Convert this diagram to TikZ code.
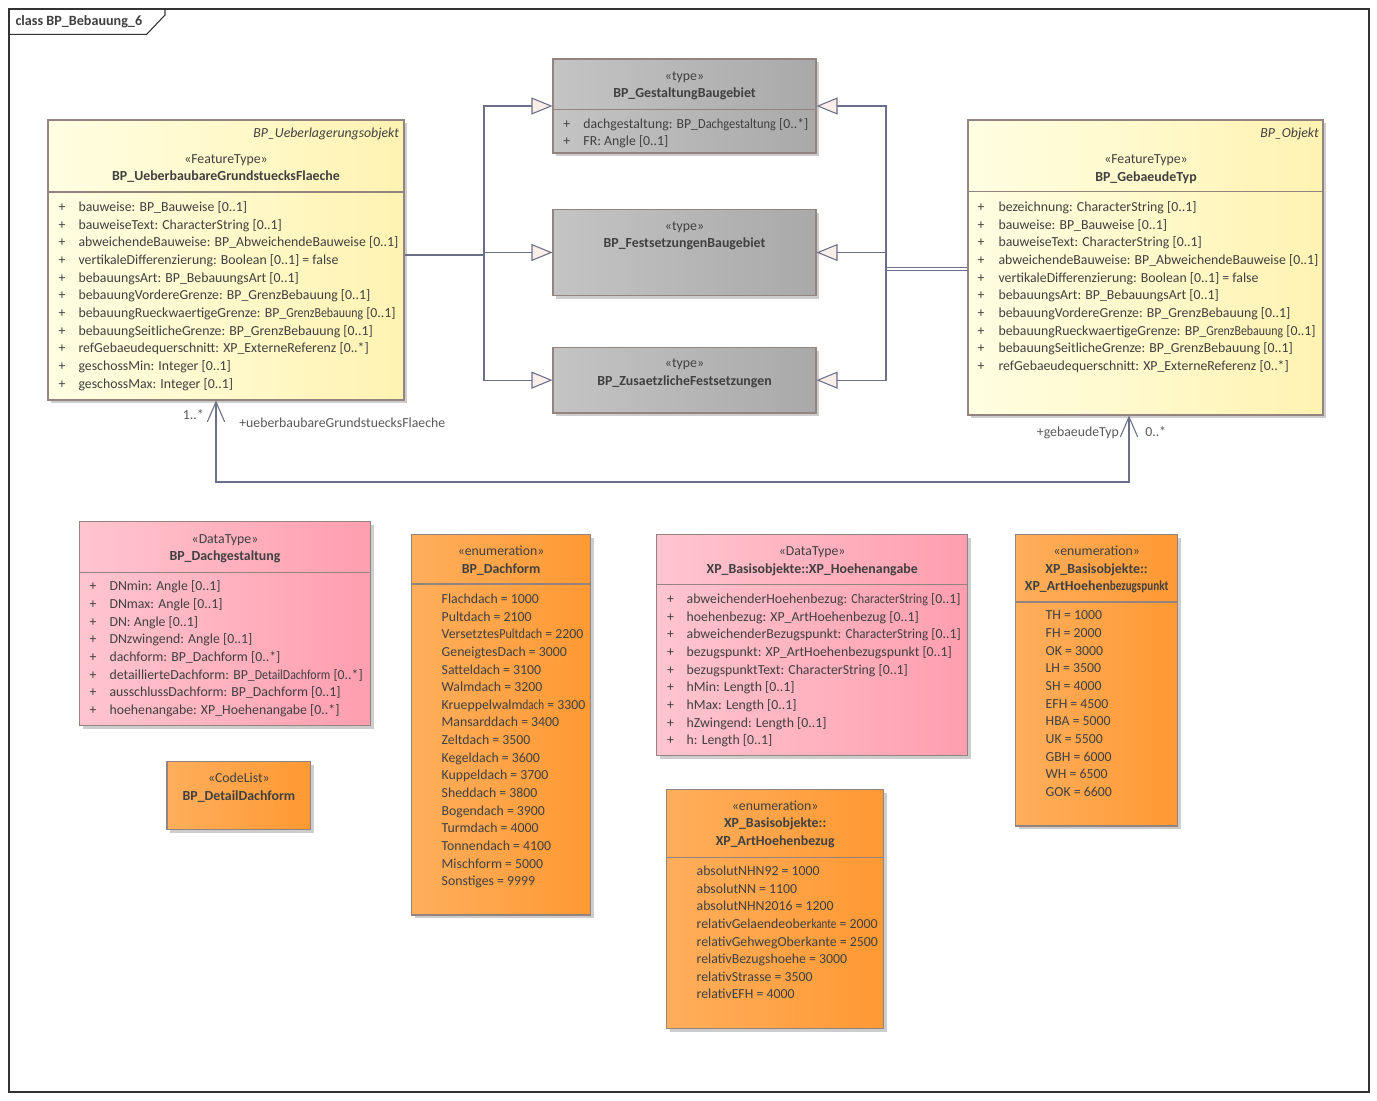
\documentclass[tikz,border=0pt]{standalone}
\usepackage{graphicx}
\usepackage{fontspec}
\setmainfont{Carlito}
\usetikzlibrary{arrows.meta,fit,shadows}
\definecolor{bd}{HTML}{94847F}
\definecolor{shd}{HTML}{CDCDCD}
\definecolor{txt}{HTML}{404040}
\definecolor{lc}{HTML}{6A7088}
\definecolor{af}{HTML}{FBEEE9}
\definecolor{yA}{HTML}{FFFEE2}
\definecolor{yB}{HTML}{FFF3B2}
\definecolor{gA}{HTML}{C4C4C4}
\definecolor{gB}{HTML}{A9A9A9}
\definecolor{pA}{HTML}{FFC5CF}
\definecolor{pB}{HTML}{FF9EAF}
\definecolor{oA}{HTML}{FFAE5C}
\definecolor{oB}{HTML}{FF9933}
\newcommand\sqz[2]{\scalebox{#1}[1]{#2}}
\newcommand\umlattrs[5]{%
  \foreach \itm [count=\i from 0] in {#5} {
    \node[t, anchor=mid west] (#1p\i) at (#2, #4+\i*17.7) {+};
    \node[t, anchor=mid west] (#1a\i) at (#3, #4+\i*17.7) {\itm};
  }}
\newcommand\umlvals[4]{%
  \foreach \itm [count=\i from 0] in {#4} {
    \node[t, anchor=mid west] (#1v\i) at (#2, #3+\i*17.66) {\itm};
  }}
\begin{document}
\begin{tikzpicture}[x=0.75pt,y=-0.75pt,
  box/.style={draw=bd, line width=0.8pt, inner sep=0pt,
    drop shadow={shadow xshift=2.6pt, shadow yshift=-2.6pt, fill=shd, opacity=1}},
  yel/.style={box, left color=yA, right color=yB},
  gry/.style={box, left color=gA, right color=gB},
  pnk/.style={box, left color=pA, right color=pB},
  org/.style={box, left color=oA, right color=oB},
  t/.style={inner sep=0pt, yshift=-1.1pt, font=\fontsize{10.35}{12}\selectfont, text=txt},
  tb/.style={inner sep=0pt, yshift=-1.1pt, font=\fontsize{10.4}{12}\selectfont\bfseries, text=txt},
  ti/.style={inner sep=0pt, yshift=-1.1pt, font=\fontsize{10.35}{12}\selectfont\itshape, text=txt},
  tl/.style={inner sep=0pt, yshift=-1.1pt, font=\fontsize{10.35}{12}\selectfont, text=black!65},
  dv/.style={draw=bd, line width=0.8pt},
  ln/.style={draw=lc, line width=0.8pt},
  gen/.style={ln, -{Triangle[open, fill=af, length=15.75pt, width=12.75pt]}},
  assoc/.style={ln, {Straight Barb[length=15pt, width=13pt]}-{Straight Barb[length=15pt, width=13pt]}},
  fr/.style={draw=black!80, line width=0.8pt}
]
\useasboundingbox (0,0) rectangle (1377,1100);
\fill[white] (0,0) rectangle (1377,1100);

% frame
\draw[fr] (9,9) rectangle (1369,1092);
\draw[fr] (9,34.3) -- (146.7,34.3) -- (165,15) -- (165,9);
\node[tb, anchor=mid west, font=\fontsize{10.6}{12}\selectfont\bfseries] (ttl) at (15.3,20.7) {class BP\_Bebauung\_6};

% left feature type
\node[yel, fit={(48,120)(404,400)}] (L) {};
\draw[dv] (48,192) -- (404,192);
\node[ti, anchor=mid east] (Lpar) at (399.3,132.7) {BP\_Ueberlagerungsobjekt};
\node[t, anchor=mid] (Lst) at (226,158.7) {«FeatureType»};
\node[tb, anchor=mid] (Lnm) at (226,176) {BP\_UeberbaubareGrundstuecksFlaeche};
\umlattrs{L}{58.3}{78.3}{206.7}{{bauweise: BP\_Bauweise [0..1]},{bauweiseText: CharacterString [0..1]},{abweichendeBauweise: BP\_AbweichendeBauweise [0..1]},{vertikaleDifferenzierung: Boolean [0..1] = false},{bebauungsArt: BP\_BebauungsArt [0..1]},{bebauungVordereGrenze: BP\_GrenzBebauung [0..1]},{bebauungRueckwaertigeGrenze: BP\_\sqz{0.86}{GrenzBebauung} [0..1]},{bebauungSeitlicheGrenze: BP\_GrenzBebauung [0..1]},{refGebaeudequerschnitt: XP\_ExterneReferenz [0..*]},{geschossMin: Integer [0..1]},{geschossMax: Integer [0..1]}}

% right feature type
\node[yel, fit={(968,120)(1323,415)}] (R) {};
\draw[dv] (968,191.7) -- (1323,191.7);
\node[ti, anchor=mid east] (Rpar) at (1319,132.7) {BP\_Objekt};
\node[t, anchor=mid] (Rst) at (1146,159.3) {«FeatureType»};
\node[tb, anchor=mid] (Rnm) at (1146,176.7) {BP\_GebaeudeTyp};
\umlattrs{R}{977.3}{998.3}{206.7}{{bezeichnung: CharacterString [0..1]},{bauweise: BP\_Bauweise [0..1]},{bauweiseText: CharacterString [0..1]},{abweichendeBauweise: BP\_AbweichendeBauweise [0..1]},{vertikaleDifferenzierung: Boolean [0..1] = false},{bebauungsArt: BP\_BebauungsArt [0..1]},{bebauungVordereGrenze: BP\_GrenzBebauung [0..1]},{bebauungRueckwaertigeGrenze: BP\_\sqz{0.86}{GrenzBebauung} [0..1]},{bebauungSeitlicheGrenze: BP\_GrenzBebauung [0..1]},{refGebaeudequerschnitt: XP\_ExterneReferenz [0..*]}}

% type boxes
\node[gry, fit={(553,59)(816,153)}] (G1) {};
\draw[dv] (553,109.3) -- (816,109.3);
\node[t, anchor=mid] (G1st) at (684.5,75.5) {«type»};
\node[tb, anchor=mid] (G1nm) at (684.5,93.3) {BP\_GestaltungBaugebiet};
\umlattrs{G}{563.2}{583.2}{123.5}{{dachgestaltung: BP\_\sqz{0.9}{Dachgestaltung} [0..*]},{FR: Angle [0..1]}}

\node[gry, fit={(553,209.3)(816,295.7)}] (G2) {};
\node[t, anchor=mid] (G2st) at (684.5,225.7) {«type»};
\node[tb, anchor=mid] (G2nm) at (684.5,243.3) {BP\_FestsetzungenBaugebiet};

\node[gry, fit={(553,347.3)(816,413)}] (G3) {};
\node[t, anchor=mid] (G3st) at (684.5,363.3) {«type»};
\node[tb, anchor=mid] (G3nm) at (684.5,381.2) {BP\_ZusaetzlicheFestsetzungen};

% generalizations left
\coordinate (lj) at (484,255);
\draw[ln] (lj -| L.east) -- (lj);
\draw[gen] (lj) |- (G1.west);
\draw[gen] (lj) |- (G2.west);
\draw[gen] (lj) |- (G3.west);

% generalizations right
\coordinate (rj) at (886,267.5);
\coordinate (rw2) at (968,270.7);
\coordinate (rj2) at (886,270.7);
\draw[ln] (R.west) -- (R.west -| rj);
\draw[ln] (rw2) -- (rj2);
\draw[gen] (R.west -| rj) |- (G1.east);
\draw[gen] (R.west -| rj) |- (G2.east);
\draw[gen] (R.west -| rj) |- (G3.east);

% association
\coordinate (a1) at (216,482);
\coordinate (a2) at (1129,482);
\draw[assoc] (a1 |- L.south) -- (a1) -- (a2) -- (a2 |- R.south);
\node[tl, anchor=mid east] (m1) at (204,415) {1..*};
\node[tl, anchor=mid west] (r1) at (239,422.7) {+ueberbaubareGrundstuecksFlaeche};
\node[tl, anchor=mid east] (r2) at (1119,431.7) {+gebaeudeTyp};
\node[tl, anchor=mid west] (m2) at (1145,431.7) {0..*};

% BP_Dachgestaltung
\node[pnk, fit={(79.6,521.7)(370.5,725.5)}] (D) {};
\draw[dv] (79.6,572.3) -- (370.5,572.3);
\node[t, anchor=mid] (Dst) at (225,539) {«DataType»};
\node[tb, anchor=mid] (Dnm) at (225,555.7) {BP\_Dachgestaltung};
\umlattrs{D}{89.3}{109.3}{586}{{DNmin: Angle [0..1]},{DNmax: Angle [0..1]},{DN: Angle [0..1]},{DNzwingend: Angle [0..1]},{dachform: BP\_Dachform [0..*]},{detaillierteDachform: BP\_\sqz{0.86}{DetailDachform} [0..*]},{ausschlussDachform: BP\_Dachform [0..1]},{hoehenangabe: XP\_Hoehenangabe [0..*]}}

% BP_DetailDachform
\node[org, fit={(167,761.7)(310.7,829.3)}] (DD) {};
\node[t, anchor=mid] (DDst) at (238.9,778.3) {«CodeList»};
\node[tb, anchor=mid] (DDnm) at (238.9,795.7) {BP\_DetailDachform};

% BP_Dachform
\node[org, fit={(411.8,534.3)(590.4,915)}] (DF) {};
\draw[dv] (411.8,584) -- (590.4,584);
\node[t, anchor=mid] (DFst) at (501.1,550.7) {«enumeration»};
\node[tb, anchor=mid] (DFnm) at (501.1,568.7) {BP\_Dachform};
\umlvals{DF}{441.4}{598.7}{{Flachdach = 1000},{Pultdach = 2100},{Versetztes\sqz{0.88}{Pultdach} = 2200},{GeneigtesDach = 3000},{Satteldach = 3100},{Walmdach = 3200},{Krueppelwalm\sqz{0.8}{dach} = 3300},{Mansarddach = 3400},{Zeltdach = 3500},{Kegeldach = 3600},{Kuppeldach = 3700},{Sheddach = 3800},{Bogendach = 3900},{Turmdach = 4000},{Tonnendach = 4100},{Mischform = 5000},{Sonstiges = 9999}}

% XP_Hoehenangabe
\node[pnk, fit={(656.8,534.3)(967.5,755.3)}] (H) {};
\draw[dv] (656.8,584.3) -- (967.5,584.3);
\node[t, anchor=mid] (Hst) at (812.2,550.7) {«DataType»};
\node[tb, anchor=mid] (Hnm) at (812.2,568.7) {XP\_Basisobjekte::XP\_Hoehenangabe};
\umlattrs{H}{666.8}{686.4}{598.7}{{abweichenderHoehenbezug: \sqz{0.88}{CharacterString} [0..1]},{hoehenbezug: XP\_ArtHoehenbezug [0..1]},{abweichenderBezugspunkt: \sqz{0.95}{CharacterString} [0..1]},{bezugspunkt: XP\_ArtHoehenbezugspunkt [0..1]},{bezugspunktText: CharacterString [0..1]},{hMin: Length [0..1]},{hMax: Length [0..1]},{hZwingend: Length [0..1]},{h: Length [0..1]}}

% XP_ArtHoehenbezug
\node[org, fit={(666.8,789.3)(883.6,1028.3)}] (AH) {};
\draw[dv] (666.8,857.3) -- (883.6,857.3);
\node[t, anchor=mid] (AHst) at (775.2,805.7) {«enumeration»};
\node[tb, anchor=mid] (AHn1) at (775.2,823.3) {XP\_Basisobjekte::};
\node[tb, anchor=mid] (AHn2) at (775.2,840.7) {XP\_ArtHoehenbezug};
\umlvals{AH}{696.4}{870.7}{{absolutNHN92 = 1000},{absolutNN = 1100},{absolutNHN2016 = 1200},{relativGelaendeober\sqz{0.8}{kante} = 2000},{relativGehwegOberkante = 2500},{relativBezugshoehe = 3000},{relativStrasse = 3500},{relativEFH = 4000}}

% XP_ArtHoehenbezugspunkt
\node[org, fit={(1015.7,534.3)(1177.5,826)}] (AP) {};
\draw[dv] (1015.7,602) -- (1177.5,602);
\node[t, anchor=mid] (APst) at (1096.6,550.7) {«enumeration»};
\node[tb, anchor=mid] (APn1) at (1096.6,568.7) {XP\_Basisobjekte::};
\node[tb, anchor=mid] (APn2) at (1096.6,585.7) {XP\_ArtHoehen\sqz{0.8}{bezugspunkt}};
\umlvals{AP}{1045.4}{615.3}{{TH = 1000},{FH = 2000},{OK = 3000},{LH = 3500},{SH = 4000},{EFH = 4500},{HBA = 5000},{UK = 5500},{GBH = 6000},{WH = 6500},{GOK = 6600}}
\end{tikzpicture}
\end{document}
